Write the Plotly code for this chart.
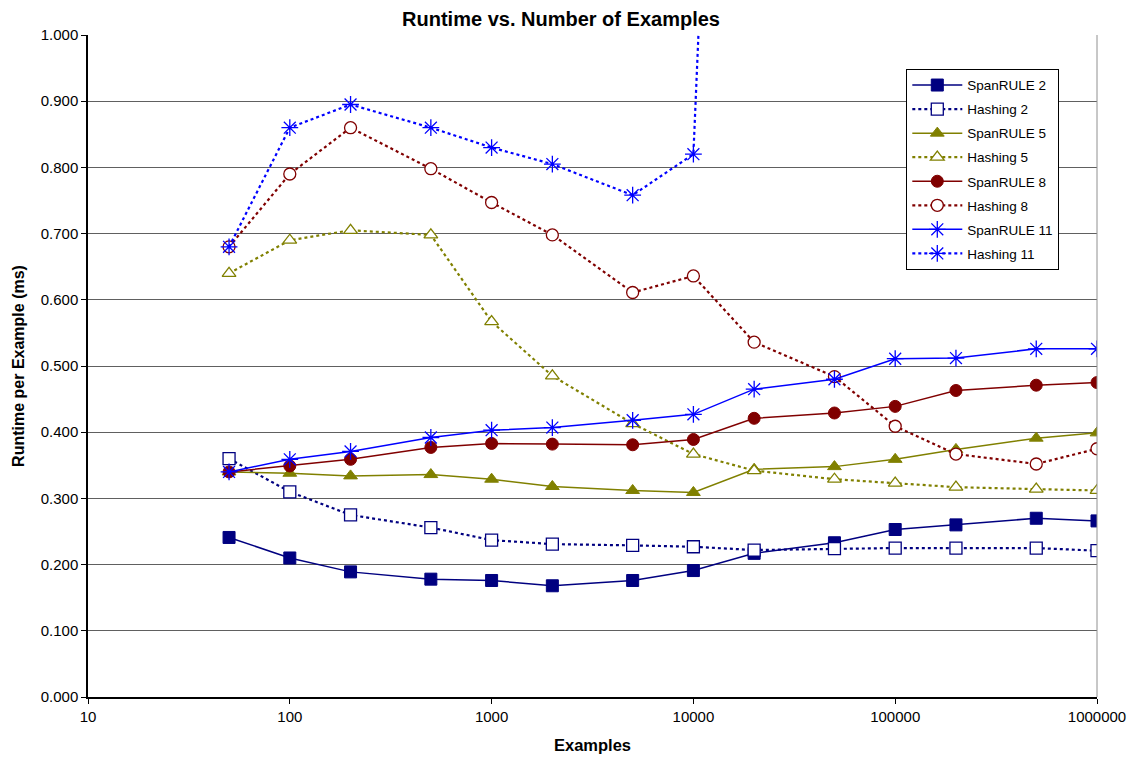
import plotly.graph_objects as go

examples = [50, 100, 200, 500, 1000, 2000, 5000, 10000, 20000, 50000, 100000, 200000, 500000, 1000000]

spanrule_2 = [0.241, 0.210, 0.189, 0.178, 0.176, 0.168, 0.176, 0.191, 0.217, 0.233, 0.253, 0.260, 0.270, 0.266]
hashing_2 = [0.360, 0.310, 0.275, 0.256, 0.237, 0.231, 0.229, 0.227, 0.222, 0.224, 0.225, 0.225, 0.225, 0.221]
spanrule_5 = [0.340, 0.338, 0.334, 0.336, 0.329, 0.318, 0.312, 0.309, 0.344, 0.348, 0.359, 0.374, 0.391, 0.399]
hashing_5 = [0.640, 0.690, 0.705, 0.698, 0.567, 0.485, 0.413, 0.367, 0.342, 0.329, 0.323, 0.317, 0.314, 0.312]
spanrule_8 = [0.340, 0.349, 0.359, 0.377, 0.383, 0.382, 0.381, 0.389, 0.421, 0.429, 0.439, 0.463, 0.471, 0.475]
hashing_8 = [0.680, 0.790, 0.860, 0.798, 0.747, 0.698, 0.611, 0.636, 0.536, 0.484, 0.409, 0.367, 0.352, 0.375]
spanrule_11 = [0.340, 0.359, 0.371, 0.392, 0.403, 0.407, 0.418, 0.427, 0.465, 0.480, 0.511, 0.512, 0.526, 0.526]
hashing_11_x = [50, 100, 200, 500, 1000, 2000, 5000, 10000, 20000]
hashing_11 = [0.680, 0.860, 0.895, 0.860, 0.830, 0.805, 0.758, 0.820, 3.0]

x_tick_vals = [10, 100, 1000, 10000, 100000, 1000000]
x_tick_text = ["10", "100", "1000", "10000", "100000", "1000000"]

NAVY = "#000080"
OLIVE = "#808000"
MAROON = "#800000"
BLUE = "#0000FF"

series = [
    ("SpanRULE 2", examples, spanrule_2, NAVY, "solid", "square", True),
    ("Hashing 2", examples, hashing_2, NAVY, "dot", "square", False),
    ("SpanRULE 5", examples, spanrule_5, OLIVE, "solid", "triangle-up", True),
    ("Hashing 5", examples, hashing_5, OLIVE, "dot", "triangle-up", False),
    ("SpanRULE 8", examples, spanrule_8, MAROON, "solid", "circle", True),
    ("Hashing 8", examples, hashing_8, MAROON, "dot", "circle", False),
    ("SpanRULE 11", examples, spanrule_11, BLUE, "solid", "asterisk-open", True),
    ("Hashing 11", hashing_11_x, hashing_11, BLUE, "dot", "asterisk-open", False),
]

fig = go.Figure()
for i, (name, xs, ys, color, dash, symbol, filled) in enumerate(series):
    if symbol == "asterisk-open":
        marker = dict(symbol=symbol, size=14, color=color, line=dict(color=color, width=1.3))
    elif filled:
        marker = dict(symbol=symbol, size=12, color=color, line=dict(color=color, width=1))
    else:
        marker = dict(symbol=symbol, size=12, color="white", line=dict(color=color, width=1.3))
    fig.add_trace(go.Scatter(
        x=xs, y=ys, name=name, mode="lines+markers",
        line=dict(color=color, width=1.5 if dash == "solid" else 2.2, dash=dash),
        marker=marker, cliponaxis=True, legendgroup="g%d" % i,
    ))

# page body has an 8px margin: shrink the figure so the plot lands where the reference's does
fig.update_layout(
    width=1130, height=752,
    paper_bgcolor="white", plot_bgcolor="white",
    margin=dict(l=80, r=41, t=27, b=63, autoexpand=False),
    font=dict(family="Liberation Sans, Arial, sans-serif", color="black", size=15),
    title=dict(text="<b>Runtime vs. Number of Examples</b>", x=0.4894, xanchor="center",
               y=0.986, yanchor="middle", font=dict(size=20)),
    showlegend=True,
    legend=dict(x=0.811, y=0.949, xanchor="left", yanchor="top",
                bgcolor="white", bordercolor="black", borderwidth=1,
                font=dict(size=13.5), tracegroupgap=3.5, traceorder="grouped",
                itemwidth=50),
)
fig.update_xaxes(
    type="log", range=[1, 6], tickvals=x_tick_vals, ticktext=x_tick_text,
    showgrid=False, showline=True, linecolor="black", linewidth=1.5,
    ticks="outside", ticklen=5, tickcolor="black", automargin=False,
    title=dict(text="<b>Examples</b>", font=dict(size=16.5), standoff=16),
    zeroline=False,
)
fig.update_yaxes(
    range=[0, 1], dtick=0.1, tickformat=".3f",
    showgrid=True, gridcolor="#606060", gridwidth=1,
    showline=True, linecolor="black", linewidth=1.5,
    ticks="outside", ticklen=5, tickcolor="black", automargin=False,
    title=dict(text="<b>Runtime per Example (ms)</b>", font=dict(size=16), standoff=12),
    zeroline=False,
)
fig.add_shape(type="line", xref="paper", yref="paper", x0=1, x1=1, y0=0, y1=1,
              line=dict(color="#909090", width=1))

fig.write_html("out.html")
